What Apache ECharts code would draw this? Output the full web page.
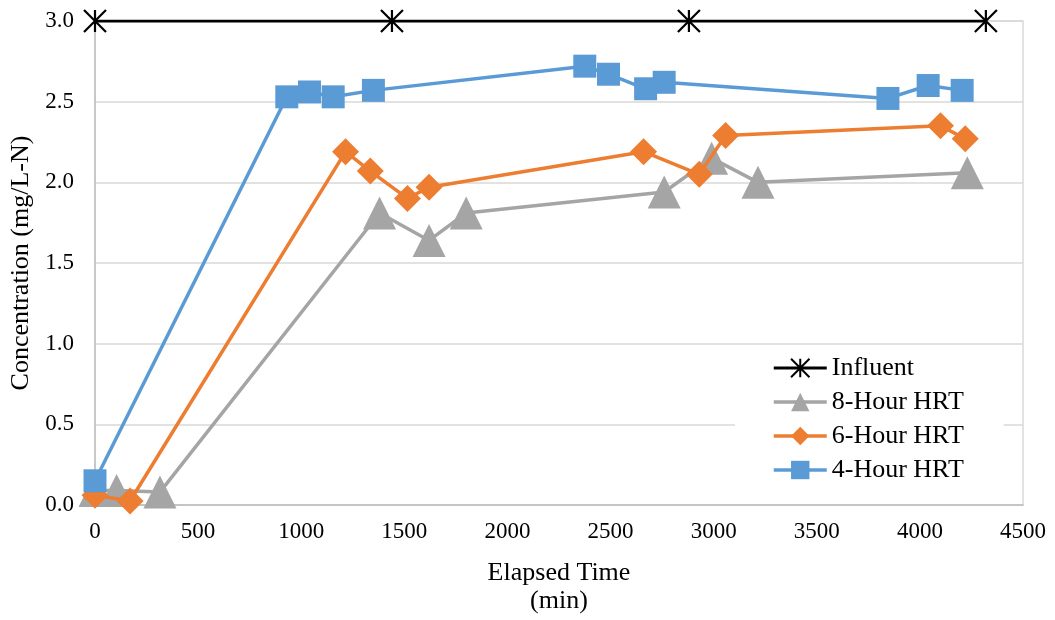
<!DOCTYPE html>
<html>
<head>
<meta charset="utf-8">
<title>Nitrogen concentration vs elapsed time</title>
<script src="https://cdn.jsdelivr.net/npm/echarts@6/dist/echarts.min.js"></script>
<style>
  html, body { margin: 0; padding: 0; background: #fff; }
  #chart { width: 1055px; height: 620px; }
</style>
</head>
<body>
<div id="chart"></div>
<script>
// Elapsed time (min) and concentration (mg/L-N) for each series
const influentTime = [0, 1440, 2880, 4320];
const influentConc = [3.0, 3.0, 3.0, 3.0];

const hrt8Time = [0, 105, 315, 1380, 1620, 1800, 2760, 2990, 3215, 4230];
const hrt8Conc = [0.09, 0.09, 0.08, 1.81, 1.64, 1.81, 1.94, 2.15, 2.00, 2.06];

const hrt6Time = [0, 170, 1215, 1335, 1515, 1620, 2660, 2930, 3058, 4100, 4220];
const hrt6Conc = [0.06, 0.025, 2.19, 2.07, 1.90, 1.97, 2.19, 2.05, 2.29, 2.35, 2.27];

const hrt4Time = [0, 930, 1040, 1155, 1350, 2375, 2490, 2670, 2760, 3845, 4040, 4205];
const hrt4Conc = [0.15, 2.53, 2.56, 2.53, 2.57, 2.72, 2.67, 2.58, 2.62, 2.52, 2.60, 2.57];

const seriesNames = ['Influent', '8-Hour HRT', '6-Hour HRT', '4-Hour HRT'];
const xTitle = 'Elapsed Time\n(min)';
const yTitle = 'Concentration (mg/L-N)';

const FONT = '"Liberation Serif", "Times New Roman", serif';

function pairs(xs, ys) {
  return xs.map((x, i) => [x, ys[i]]);
}

// asterisk marker: an X crossed by a vertical stroke
const starPath = 'path://M0,0L10,10M10,0L0,10M5,0L5,10';

const chart = echarts.init(document.getElementById('chart'), null, { renderer: 'canvas' });

chart.setOption({
  animation: false,
  backgroundColor: '#ffffff',
  grid: {
    left: 95, right: 32, top: 21, bottom: 111,
    show: true, borderColor: '#d9d9d9', borderWidth: 1.5, backgroundColor: 'transparent'
  },
  legend: {
    orient: 'vertical',
    left: 735, top: 349,
    padding: [6, 40, 8, 37],
    backgroundColor: '#ffffff',
    itemWidth: 53, itemHeight: 23, itemGap: 8,
    lineStyle: { width: 'inherit' },
    textStyle: { fontFamily: FONT, fontSize: 26, color: '#000', lineHeight: 26 },
    data: seriesNames
  },
  xAxis: {
    type: 'value',
    min: 0, max: 4500, interval: 500,
    name: xTitle,
    nameLocation: 'middle',
    nameGap: 54,
    nameTextStyle: { fontFamily: FONT, fontSize: 26, color: '#000', lineHeight: 28 },
    axisLine: { show: true, lineStyle: { color: '#bfbfbf', width: 1.5 } },
    axisTick: { show: false },
    splitLine: { show: false },
    axisLabel: {
      fontFamily: FONT, fontSize: 23, color: '#000', margin: 15,
      formatter: v => String(v)
    }
  },
  yAxis: {
    type: 'value',
    min: 0, max: 3, interval: 0.5,
    name: yTitle,
    nameLocation: 'middle',
    nameGap: 59,
    nameTextStyle: { fontFamily: FONT, fontSize: 26, color: '#000' },
    axisLine: { show: true, lineStyle: { color: '#bfbfbf', width: 1.5 } },
    axisTick: { show: false },
    splitLine: { show: true, lineStyle: { color: '#d9d9d9', width: 1.5 } },
    axisLabel: {
      fontFamily: FONT, fontSize: 23, color: '#000', margin: 21,
      formatter: v => v.toFixed(1)
    }
  },
  series: [
    {
      name: seriesNames[0],
      type: 'line',
      data: pairs(influentTime, influentConc),
      symbol: starPath,
      symbolSize: 22,
      lineStyle: { color: '#000', width: 3 },
      itemStyle: { color: '#000', borderColor: '#000', borderWidth: 2.2 },
      z: 3
    },
    {
      name: seriesNames[1],
      type: 'line',
      data: pairs(hrt8Time, hrt8Conc),
      symbol: 'triangle',
      symbolSize: [33, 33],
      lineStyle: { color: '#a5a5a5', width: 3.5 },
      itemStyle: { color: '#a5a5a5' },
      z: 4
    },
    {
      name: seriesNames[2],
      type: 'line',
      data: pairs(hrt6Time, hrt6Conc),
      symbol: 'diamond',
      symbolSize: [27, 27],
      lineStyle: { color: '#ed7d31', width: 3.5 },
      itemStyle: { color: '#ed7d31' },
      z: 5
    },
    {
      name: seriesNames[3],
      type: 'line',
      data: pairs(hrt4Time, hrt4Conc),
      symbol: 'rect',
      symbolSize: 23,
      lineStyle: { color: '#5b9bd5', width: 3.5 },
      itemStyle: { color: '#5b9bd5' },
      z: 6
    }
  ]
});
</script>
</body>
</html>
